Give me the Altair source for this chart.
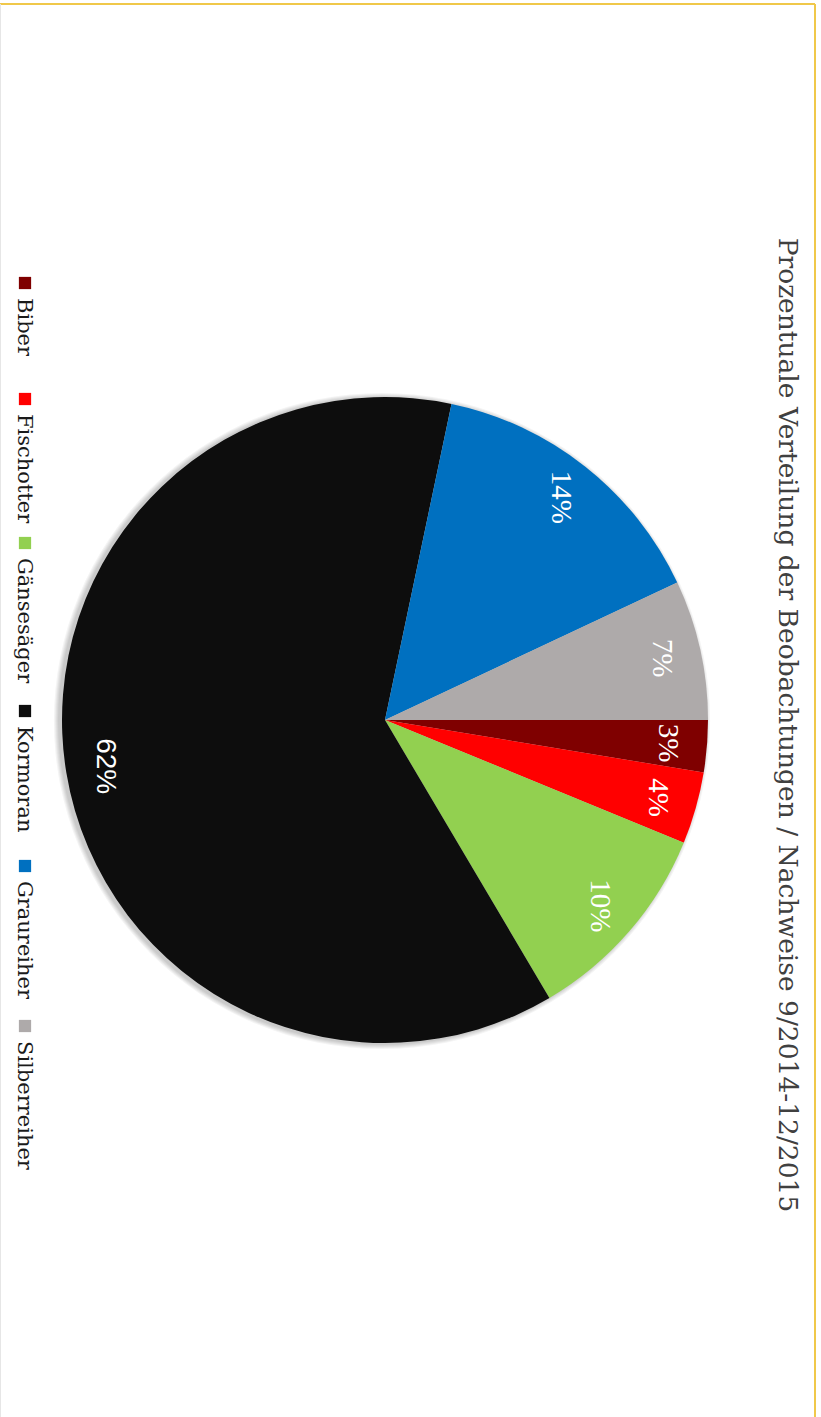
import math
import altair as alt
import pandas as pd

# ---- data ----
species = ["Biber", "Fischotter", "Gänsesäger", "Kormoran", "Graureiher", "Silberreiher"]
values = [2.6, 3.6, 10.3, 61.8, 14.7, 7.0]
labels = ["3%", "4%", "10%", "62%", "14%", "7%"]
colors = ["#7f0000", "#ff0000", "#92d050", "#0d0d0d", "#0070c0", "#aeaaaa"]
title_text = "Prozentuale Verteilung der Beobachtungen / Nachweise 9/2014-12/2015"

df = pd.DataFrame({"species": species, "value": values, "label": labels,
                   "idx": list(range(len(species)))})
df_title = pd.DataFrame({"t": [title_text]})

# ---- layout ----
W, H = 821, 1417
CX, CY, R = 385, 720, 323
legend_centers = [283, 399, 543, 711, 866, 1026]

color_scale = alt.Scale(domain=species, range=colors)
theta_enc = alt.Theta("value:Q", stack=True,
                      scale=alt.Scale(range=[math.pi / 2, math.pi / 2 + 2 * math.pi]))
order_enc = alt.Order("idx:Q", sort="ascending")

base = alt.Chart(df)

shadows = [
    alt.Chart(df_title).mark_arc(radius=R + k, theta=0, theta2=2 * math.pi,
                                  color="#000000", opacity=0.045)
    .encode(x=alt.value(CX - 3), y=alt.value(CY + 1))
    for k in (1, 2, 3, 4, 5)
]

pie = base.mark_arc(radius=R).encode(
    theta=theta_enc,
    color=alt.Color("species:N", scale=color_scale, legend=None),
    order=order_enc,
    x=alt.value(CX), y=alt.value(CY),
)

lab_serif = base.mark_text(radius=284, angle=90, font="Liberation Serif", fontSize=29,
                           color="white", align="center", baseline="middle").encode(
    theta=theta_enc, detail="species:N", order=order_enc, text="label:N",
    x=alt.value(CX), y=alt.value(CY),
    opacity=alt.condition("datum.species == 'Kormoran'", alt.value(0), alt.value(1)),
)
lab_sans = base.mark_text(radius=284, angle=90, font="Liberation Sans", fontSize=28,
                          color="white", align="center", baseline="middle").encode(
    theta=theta_enc, detail="species:N", order=order_enc, text="label:N",
    x=alt.value(CX), y=alt.value(CY),
    opacity=alt.condition("datum.species == 'Kormoran'", alt.value(1), alt.value(0)),
)

title = alt.Chart(df_title).mark_text(angle=90, font="DejaVu Serif", fontSize=26.5,
                                      color="#404040", align="center",
                                      baseline="alphabetic").encode(
    text="t:N", x=alt.value(779), y=alt.value(725))

leg_y = alt.Y("idx:Q", axis=None,
              scale=alt.Scale(domain=list(range(len(species))), range=legend_centers,
                              nice=False, zero=False))
leg_sq = base.mark_square(size=150, opacity=1).encode(
    x=alt.value(25), y=leg_y,
    color=alt.Color("species:N", scale=color_scale, legend=None))
leg_txt = base.mark_text(angle=90, font="DejaVu Serif", fontSize=21, color="#1a1a1a",
                         align="left", baseline="alphabetic", yOffset=15).encode(
    x=alt.value(18), y=leg_y, text="species:N")

border_top = alt.Chart(df_title).mark_rule(color="#f0c84a", strokeWidth=2).encode(
    x=alt.value(0), x2=alt.value(815), y=alt.value(4))
border_right = alt.Chart(df_title).mark_rule(color="#f0c84a", strokeWidth=2).encode(
    x=alt.value(815), y=alt.value(4), y2=alt.value(H))
border_left = alt.Chart(df_title).mark_rule(color="#e6e6e6", strokeWidth=1).encode(
    x=alt.value(0.5), y=alt.value(4), y2=alt.value(H))

chart = alt.layer(
    *shadows, pie, lab_serif, lab_sans, title, leg_sq, leg_txt,
    border_top, border_right, border_left,
).properties(width=W, height=H, autosize="none", padding=0, background="white"
).configure_view(stroke=None)

chart.save("out.html", embed_options={"renderer": "svg", "actions": False})
